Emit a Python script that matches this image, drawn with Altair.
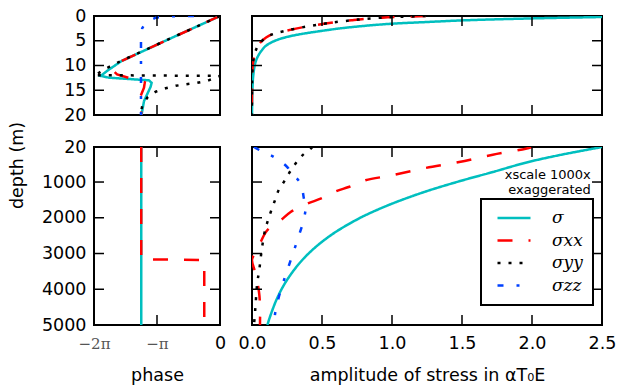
import math
import altair as alt
import pandas as pd

PI = math.pi

# ---------------- data ----------------
SERIES = ["σ", "σxx", "σyy", "σzz"]
COLORS = ["#00bfbf", "#ff0000", "#000000", "#0040ff"]
DASHES = [[1, 0], [15, 16], [3, 8], [6, 13, 3, 13]]

# top-left: phase, depth 0-20 m
TL_S_DEPTH = [0, 4.5, 9.1, 11.0, 12.1, 12.46, 13.0, 13.5, 14.3, 17.2, 19.9, 20]
TL_S_PHASE = [0, -2.45, -4.91, -5.6, -5.95, -5.54, -3.54, -3.41, -3.46, -3.79, -3.91, -3.927]
TL_XX_DEPTH = [0, 4.5, 9.1, 10.0, 11.0, 11.8, 12.6, 13.4, 14.5, 16.2, 18.5, 20]
TL_XX_PHASE = [0, -2.45, -4.91, -5.2, -5.35, -5.13, -4.46, -3.75, -3.79, -3.96, -3.93, -3.927]
TL_YY_DEPTH = [0, 4.5, 9.1, 9.8, 10.8, 11.8, 11.95, 12.1, 13.1, 13.5, 13.8, 14.1, 14.6, 15.3, 16.5, 18.2, 19.9, 20]
TL_YY_PHASE = [0, -2.45, -4.95, -5.29, -5.78, -6.15, -6.28, 0.0, -0.63, -1.13, -1.71, -2.21, -2.71, -3.21, -3.63, -3.88, -3.96, -3.93]
TL_ZZ_DEPTH = [0, 0.03, 0.08, 0.34, 0.67, 1.35, 2.5, 4.0, 20]
TL_ZZ_PHASE = [-1.3, -1.9, -2.7, -3.2, -3.38, -3.71, -3.88, -3.94, -3.94]

# bottom-left: phase, depth 20-5000 m
BL_S_DEPTH = [20, 5000]
BL_S_PHASE = [-3.927, -3.927]
BL_XX_DEPTH = [20, 3160, 3185, 5000]
BL_XX_PHASE = [-3.927, -3.927, -0.785, -0.785]

# top-right: amplitude, depth 0-20 m
TR_S_DEPTH = [0, 0.2, 0.5, 0.87, 1.2, 1.56, 2.0, 2.5, 3.0, 3.7, 4.3, 5.05, 6.0, 7.0, 7.74, 8.7, 9.76, 12, 15, 20]
TR_S_AMP = [2.8, 2.5, 1.98, 1.52, 1.26, 1.0, 0.8, 0.63, 0.5, 0.34, 0.24, 0.16, 0.1, 0.068, 0.05, 0.033, 0.021, 0.009, 0.003, 0.0]
TR_XX_DEPTH = [0, 0.15, 0.33, 0.6, 0.87, 1.3, 1.8, 2.4, 3.0, 3.5, 4.0, 4.8, 5.7, 6.6, 7.6, 10, 20]
TR_XX_AMP = [1.24, 1.07, 0.93, 0.8, 0.71, 0.58, 0.46, 0.34, 0.24, 0.17, 0.12, 0.08, 0.05, 0.032, 0.02, 0.005, 0.0]
TR_YY_DEPTH = [0, 0.15, 0.33, 0.6, 0.87, 1.3, 1.8, 2.4, 3.0, 3.5, 4.0, 4.8, 5.7, 6.6, 7.6, 10, 20]
TR_YY_AMP = [1.24, 1.07, 0.93, 0.8, 0.71, 0.58, 0.46, 0.34, 0.24, 0.17, 0.12, 0.08, 0.05, 0.032, 0.02, 0.005, 0.0]

# bottom-right: amplitude (x1000), depth 20-5000 m
BR_S_DEPTH = [20, 252, 459, 720, 980, 1279, 1606, 1885, 2071, 2443, 2865, 3285, 3797, 4264, 4823, 5000]
BR_S_AMP = [2.5, 2.19, 1.955, 1.72, 1.48, 1.23, 1.0, 0.834, 0.739, 0.58, 0.441, 0.336, 0.241, 0.178, 0.124, 0.11]
BR_XX_DEPTH = [20, 67, 235, 440, 607, 812, 952, 1139, 1259, 1466, 1606, 1838, 2071, 2350, 2678, 2950, 3170, 3565, 4077, 4450, 5000]
BR_XX_AMP = [2.0, 1.955, 1.72, 1.48, 1.24, 1.0, 0.81, 0.69, 0.60, 0.49, 0.395, 0.276, 0.205, 0.109, 0.062, 0.03, 0.0, 0.026, 0.05, 0.057, 0.057]
BR_YY_DEPTH = [20, 67, 252, 487, 720, 980, 1232, 1512, 1792, 2071, 2350, 2910, 3517, 3797, 4404, 4683, 5000]
BR_YY_AMP = [0.43, 0.42, 0.36, 0.31, 0.27, 0.23, 0.19, 0.164, 0.138, 0.114, 0.093, 0.069, 0.05, 0.038, 0.026, 0.021, 0.014]
BR_ZZ_DEPTH = [20, 140, 300, 580, 720, 1047, 1466, 1651, 2026, 2490, 3050, 3470, 4029, 4589, 4916, 5000]
BR_ZZ_AMP = [0.014, 0.069, 0.157, 0.252, 0.276, 0.348, 0.371, 0.384, 0.371, 0.336, 0.288, 0.252, 0.205, 0.169, 0.157, 0.152]

PHASE_TICKS = [-2 * PI, -PI, 0]
AMP_TICKS = [0.0, 0.5, 1.0, 1.5, 2.0, 2.5]
SHALLOW_TICKS = [0, 5, 10, 15, 20]
DEEP_TICKS = [20, 1000, 2000, 3000, 4000, 5000]
NOTE = "xscale 1000x\nexaggerated"

# ---------------- helpers ----------------
def frame(pairs):
    rows = []
    for name, depth, val in pairs:
        for i, (d, v) in enumerate(zip(depth, val)):
            rows.append({"series": name, "depth": d, "val": v, "i": i})
    return pd.DataFrame(rows)


TL = frame([("σ", TL_S_DEPTH, TL_S_PHASE), ("σxx", TL_XX_DEPTH, TL_XX_PHASE),
            ("σyy", TL_YY_DEPTH, TL_YY_PHASE), ("σzz", TL_ZZ_DEPTH, TL_ZZ_PHASE)])
BL = frame([("σ", BL_S_DEPTH, BL_S_PHASE), ("σxx", BL_XX_DEPTH, BL_XX_PHASE)])
TR = frame([("σ", TR_S_DEPTH, TR_S_AMP), ("σxx", TR_XX_DEPTH, TR_XX_AMP),
            ("σyy", TR_YY_DEPTH, TR_YY_AMP)])
BR = frame([("σ", BR_S_DEPTH, BR_S_AMP), ("σxx", BR_XX_DEPTH, BR_XX_AMP),
            ("σyy", BR_YY_DEPTH, BR_YY_AMP), ("σzz", BR_ZZ_DEPTH, BR_ZZ_AMP)])

color_scale = alt.Scale(domain=SERIES, range=COLORS)
dash_scale = alt.Scale(domain=SERIES, range=DASHES)

TICK_LEN = 10
LEGEND = alt.Legend(title=None, orient="none", legendX=387, legendY=183)


def panel(df, xdom, ydom, w, h, xticks, yticks, xaxis, yaxis, interp="linear", extra=None):
    xs = alt.Scale(domain=xdom, nice=False, zero=False)
    ys = alt.Scale(domain=ydom, nice=False, zero=False, reverse=True)
    lines = alt.Chart(df).mark_line(clip=True, strokeWidth=2.5, interpolate=interp).encode(
        x=alt.X("val:Q", scale=xs, axis=xaxis),
        y=alt.Y("depth:Q", scale=ys, axis=yaxis),
        color=alt.Color("series:N", scale=color_scale, legend=LEGEND),
        strokeDash=alt.StrokeDash("series:N", scale=dash_scale, legend=LEGEND),
        order="i:Q",
    )
    yt = pd.DataFrame({"depth": yticks})
    xt = pd.DataFrame({"val": xticks})
    rk = dict(color="black", strokeWidth=1.5)
    left = alt.Chart(yt).mark_rule(**rk).encode(
        y=alt.Y("depth:Q", axis=yaxis), x=alt.value(0), x2=alt.value(TICK_LEN))
    right = alt.Chart(yt).mark_rule(**rk).encode(
        y=alt.Y("depth:Q", axis=yaxis), x=alt.value(w - TICK_LEN), x2=alt.value(w))
    top = alt.Chart(xt).mark_rule(**rk).encode(
        x=alt.X("val:Q", axis=xaxis), y=alt.value(0), y2=alt.value(TICK_LEN))
    bot = alt.Chart(xt).mark_rule(**rk).encode(
        x=alt.X("val:Q", axis=xaxis), y=alt.value(h - TICK_LEN), y2=alt.value(h))
    layers = [lines, left, right, top, bot]
    if extra is not None:
        layers.append(extra)
    return alt.layer(*layers).properties(width=w, height=h)


shallow_axis = alt.Axis(values=SHALLOW_TICKS, title=None, labelPadding=8)
deep_axis = alt.Axis(values=DEEP_TICKS, format="d", title="depth (m)", labelPadding=8,
                     titleX=-68, titleY=18, titleAngle=-90, titleBaseline="bottom",
                     titleAlign="center")
phase_axis = alt.Axis(
    values=PHASE_TICKS, title="phase",
    labelExpr="datum.value < -5 ? '−2π' : (datum.value < -2 ? '−π' : '0')",
    labelBaseline="middle", labelPadding=18,
    labelColor={"condition": {"test": "datum.value < -1", "value": "#555555"}, "value": "black"},
    labelFontSize={"condition": {"test": "datum.value < -1", "value": 15}, "value": 17.5},
    labelFont={"condition": {"test": "datum.value < -1", "value": "DejaVu Serif"}, "value": "DejaVu Sans"},
    titleY=55, titleBaseline="alphabetic",
)
amp_axis = alt.Axis(values=AMP_TICKS, format=".1f", title="amplitude of stress in αT₀E",
                    labelBaseline="middle", labelPadding=18,
                    titleY=55, titleBaseline="alphabetic")

note = alt.Chart(pd.DataFrame({"t": [NOTE]})).mark_text(
    align="right", baseline="alphabetic", fontSize=13, lineBreak="\n", lineHeight=15,
    font="DejaVu Sans", color="black"
).encode(text="t:N", x=alt.datum(2.42), y=alt.datum(915))

LW, RW, TH, BH = 126, 350, 99, 178

tl = panel(TL, [-2 * PI, 0], [0, 20], LW, TH, [-PI], [5, 10, 15], None, shallow_axis)
tr = panel(TR, [0, 2.5], [0, 20], RW, TH, [0.5, 1.0, 1.5, 2.0], [5, 10, 15], None, None,
           interp="catmull-rom")
bl = panel(BL, [-2 * PI, 0], [20, 5000], LW, BH, [-PI], [1000, 2000, 3000, 4000], phase_axis, deep_axis)
br = panel(BR, [0, 2.5], [20, 5000], RW, BH, [0.5, 1.0, 1.5, 2.0], [1000, 2000, 3000, 4000],
           amp_axis, None, interp="catmull-rom", extra=note)

chart = alt.concat(tl, tr, bl, br, columns=2, spacing=32, bounds="flush").resolve_scale(
    x="independent", y="independent"
).properties(
    padding={"left": 7, "top": 6, "right": 0, "bottom": 0}
).configure_view(
    stroke="black", strokeWidth=2
).configure_axis(
    labelFont="DejaVu Sans", labelFontSize=17.5, labelColor="black", labelFlush=False,
    titleFont="DejaVu Sans", titleFontSize=17.5, titleFontWeight="normal", titleColor="black",
    ticks=False, domain=False, grid=False,
).configure_legend(
    fillColor="white", strokeColor="black", strokeWidth=2, padding=10, symbolOffset=5,
    symbolType="stroke", symbolSize=1089, symbolStrokeWidth=2.5,
    labelFont="DejaVu Serif", labelFontStyle="italic", labelFontSize=17, labelColor="black",
    labelOffset=20, rowPadding=4.5, clipHeight=18,
)

chart.save("out.html", embed_options={"renderer": "svg", "actions": False})
